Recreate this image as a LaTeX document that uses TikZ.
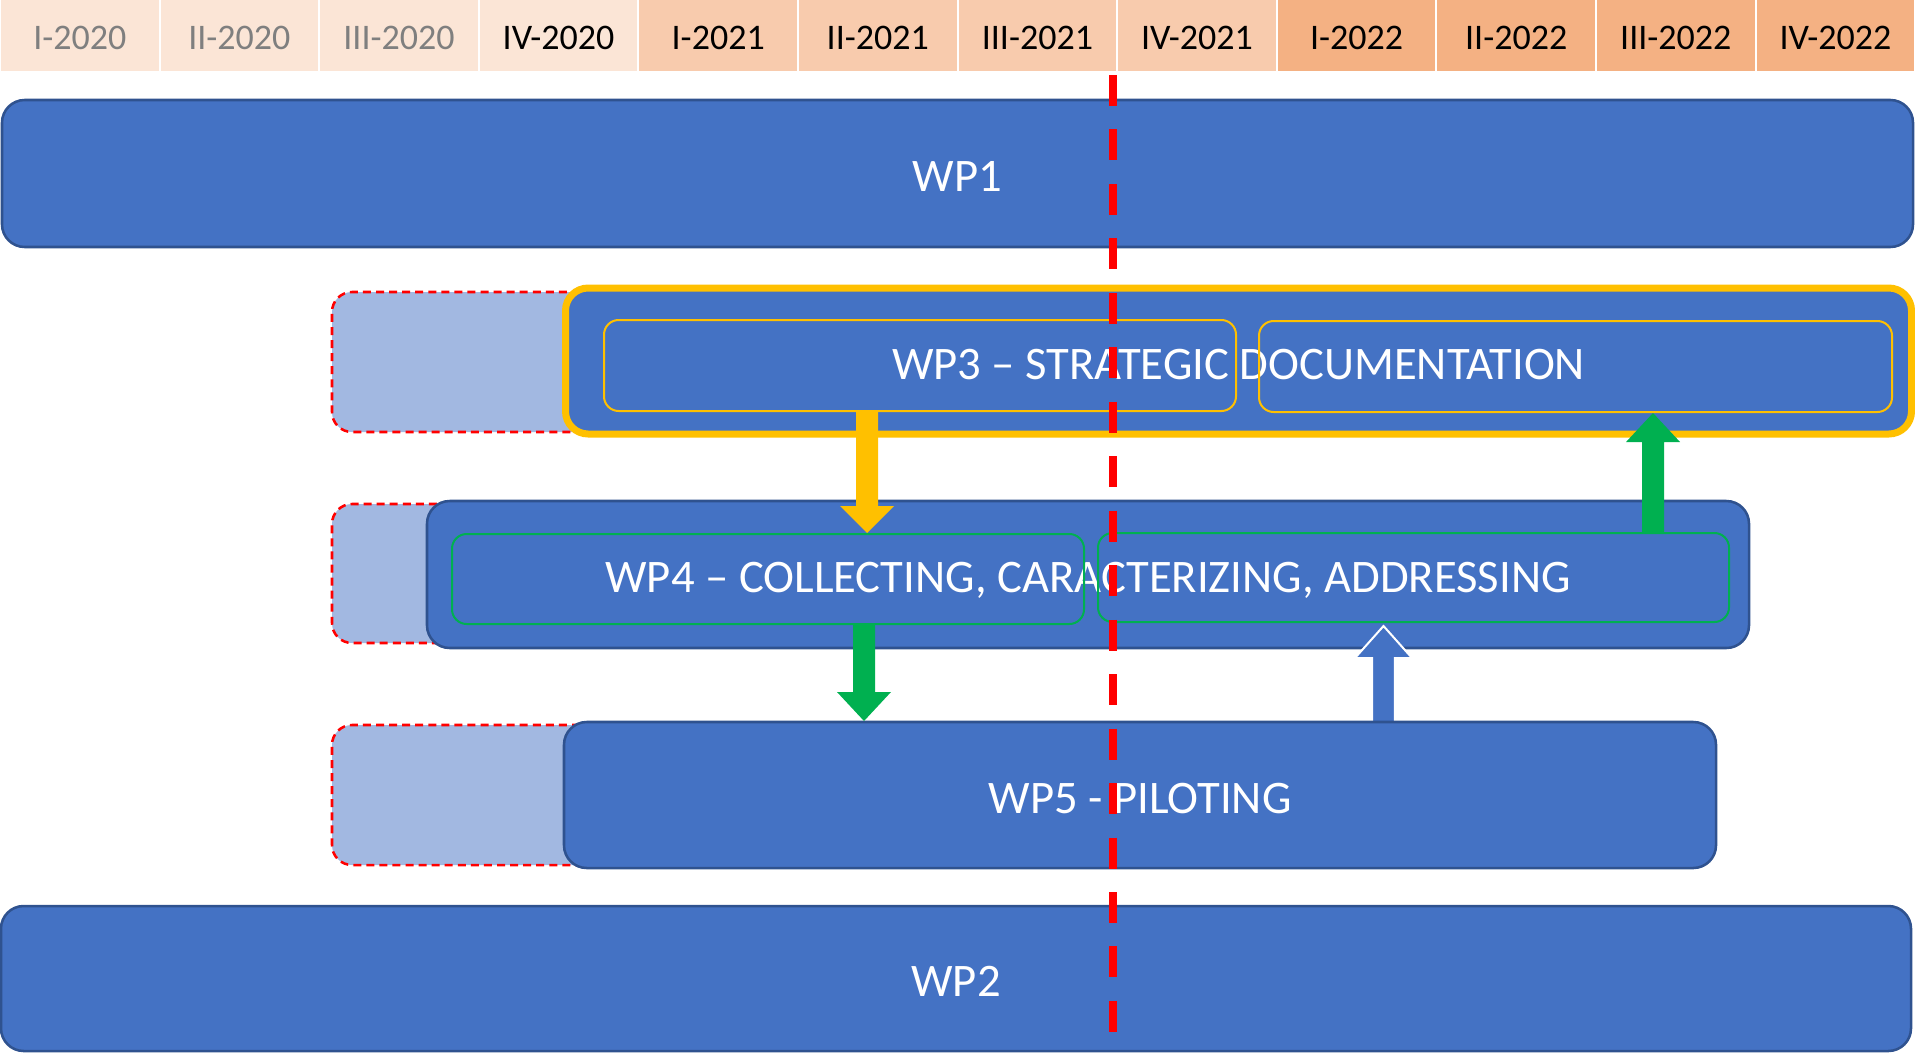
\documentclass[tikz,border=0pt]{standalone}
\usepackage{fontspec}
\setmainfont{Carlito}
\usetikzlibrary{calc}
\definecolor{wpblue}{HTML}{4472C4}
\definecolor{wpedge}{HTML}{2F528F}
\definecolor{wplight}{HTML}{A2B8E1}
\definecolor{gold}{HTML}{FFC000}
\definecolor{okgreen}{HTML}{00B050}
\definecolor{hdrA}{HTML}{FBE5D6}
\definecolor{hdrB}{HTML}{F8CBAD}
\definecolor{hdrC}{HTML}{F4B183}
\definecolor{hdrgray}{HTML}{7F7F7F}
\definecolor{cutred}{HTML}{FF0000}
% block arrow: #1 style, #2 start, #3 tip, #4 half shaft, #5 half head, #6 head length
\newcommand\blockarr[6]{%
  \coordinate (babase) at ($(#3)!#6!(#2)$);
  \path[#1] ($(#2)!#4!90:(#3)$) -- ($(babase)!#4!-90:(#2)$) -- ($(babase)!#5!-90:(#2)$)
    -- (#3) -- ($(babase)!#5!90:(#2)$) -- ($(babase)!#4!90:(#2)$) -- ($(#2)!#4!-90:(#3)$) -- cycle;}
\begin{document}
\begin{tikzpicture}[x=0.75pt,y=-0.75pt,
  cell/.style={fill=#1, minimum width={157.6*0.75pt}, minimum height={71*0.75pt}, inner sep=0pt,
    font=\fontsize{27}{27}\selectfont, text height=20.9pt, text depth=0pt},
  wp/.style={fill=wpblue, draw=wpedge, line width=1.9pt, rounded corners=17pt, text=white,
    inner sep=0pt, font=\fontsize{35}{35}\selectfont, text height=27.3pt, text depth=0pt},
  wpgold/.style={wp, draw=gold, line width=5.25pt},
  subbox/.style={draw=#1, rounded corners=11pt, line width=1.5pt, inner sep=0pt},
  ghost/.style={fill=wplight, draw=cutred, line width=1.9pt, dash pattern=on 6pt off 3.8pt, rounded corners=15pt, inner sep=0pt},
  cut/.style={draw=cutred, line width=6pt, dash pattern=on 23.25pt off 17.6pt},
  yarr/.style={fill=gold},
  garr/.style={fill=okgreen},
  barr/.style={fill=wpblue, draw=white, line width=1.5pt, line join=miter},
]
\useasboundingbox (0,0) rectangle (1915,1054);
% header
\node[cell=hdrA, text=hdrgray] (q1) at (79.8,35.5) {I-2020};
\node[cell=hdrA, text=hdrgray] (q2) at (239.4,35.5) {II-2020};
\node[cell=hdrA, text=hdrgray] (q3) at (399.0,35.5) {III-2020};
\node[cell=hdrA, text=black] (q4) at (558.6,35.5) {IV-2020};
\node[cell=hdrB] (q5) at (718.2,35.5) {I-2021};
\node[cell=hdrB] (q6) at (877.8,35.5) {II-2021};
\node[cell=hdrB] (q7) at (1037.4,35.5) {III-2021};
\node[cell=hdrB] (q8) at (1197.0,35.5) {IV-2021};
\node[cell=hdrC] (q9) at (1356.6,35.5) {I-2022};
\node[cell=hdrC] (q10) at (1516.2,35.5) {II-2022};
\node[cell=hdrC] (q11) at (1675.8,35.5) {III-2022};
\node[cell=hdrC] (q12) at (1835.4,35.5) {IV-2022};
% earlier-start ghosts
\node[ghost, minimum width={268*0.75pt}, minimum height={140*0.75pt}] (g3) at (466,362) {};
\node[ghost, minimum width={138*0.75pt}, minimum height={139*0.75pt}] (g4) at (401,573.5) {};
\node[ghost, minimum width={268*0.75pt}, minimum height={140*0.75pt}] (g5) at (466,795) {};
% work packages
\node[wp, minimum width={1911*0.75pt}, minimum height={147*0.75pt}] (wp1) at (957.5,173.5) {WP1};
\node[wp, minimum width={1910*0.75pt}, minimum height={145*0.75pt}] (wp2) at (956,978.5) {WP2};
\node[wpgold, minimum width={1346*0.75pt}, minimum height={146*0.75pt}] (wp3) at (1238.5,361) {WP3 – STRATEGIC DOCUMENTATION};
\node[subbox=gold, minimum width={632*0.75pt}, minimum height={91*0.75pt}] (wp3a) at (920,365.5) {};
\node[subbox=gold, minimum width={633*0.75pt}, minimum height={91*0.75pt}] (wp3b) at (1575.5,366.5) {};
\node[wp, minimum width={1322*0.75pt}, minimum height={147*0.75pt}] (wp4) at (1088,574.5) {WP4 – COLLECTING, CARACTERIZING, ADDRESSING};
\node[subbox=okgreen, minimum width={632*0.75pt}, minimum height={90*0.75pt}] (wp4a) at (768,579) {};
\node[subbox=okgreen, minimum width={631*0.75pt}, minimum height={89*0.75pt}] (wp4b) at (1413.5,577.5) {};
% arrow ends
\coordinate (ys) at (867,411);
\coordinate (yt) at (wp4a.north -| ys);
\coordinate (gus) at (1653,533);
\coordinate (gut) at (wp3b.south -| gus);
\coordinate (gds) at (864,624);
\coordinate (gdt) at (864,721);
\coordinate (bs) at (1383.5,727);
\coordinate (bt) at (1383.5,626);
\blockarr{yarr}{ys}{yt}{8.25pt}{20.25pt}{20.25pt}
\blockarr{garr}{gus}{gut}{8.25pt}{20.25pt}{21.75pt}
\blockarr{barr}{bs}{bt}{8.6pt}{21.4pt}{24pt}
\node[wp, minimum width={1152*0.75pt}, minimum height={146*0.75pt}] (wp5) at (1140,795) {WP5 - PILOTING};
\blockarr{garr}{gds}{gdt}{8.25pt}{20.25pt}{21.75pt}
% status date line
\coordinate (cuttop) at (1113,75);
\coordinate (cutbot) at (1113,1032);
\draw[cut] (cuttop) -- (cutbot);
\end{tikzpicture}
\end{document}
